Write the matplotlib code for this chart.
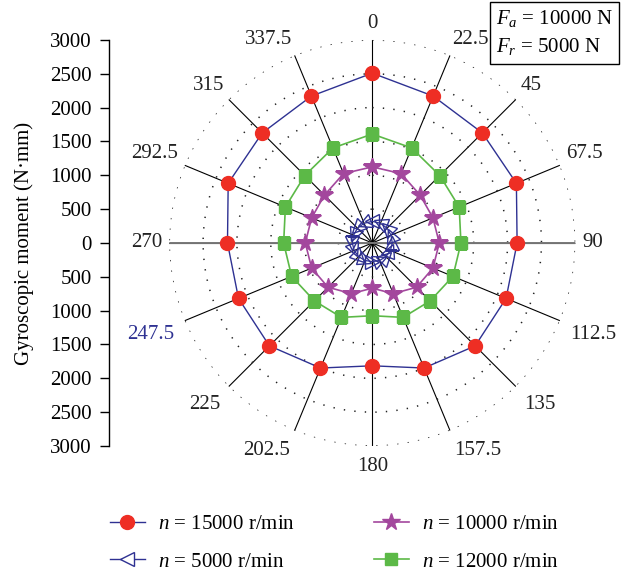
import numpy as np
import matplotlib
matplotlib.use('Agg')
import matplotlib.pyplot as plt
from matplotlib.markers import MarkerStyle
from matplotlib.transforms import Affine2D

plt.rcParams['font.family'] = 'Liberation Serif'
plt.rcParams['mathtext.fontset'] = 'custom'
plt.rcParams['mathtext.rm'] = 'Liberation Serif'
plt.rcParams['mathtext.it'] = 'Liberation Serif:italic'

# Angular positions (deg) and gyroscopic moment (N·mm) per speed
angles = [0, 22.5, 45, 67.5, 90, 112.5, 135, 157.5, 180,
          202.5, 225, 247.5, 270, 292.5, 315, 337.5]
angle_labels = ['0', '22.5', '45', '67.5', '90', '112.5', '135', '157.5', '180',
                '202.5', '225', '247.5', '270', '292.5', '315', '337.5']
m_15000 = [2510, 2350, 2300, 2305, 2140, 2140, 2150, 2000, 1815,
           2000, 2150, 2140, 2140, 2305, 2300, 2350]
m_12000 = [1610, 1520, 1410, 1390, 1310, 1290, 1210, 1190, 1075,
           1190, 1210, 1290, 1310, 1390, 1410, 1520]
m_10000 = [1125, 1110, 1000, 970, 990, 970, 925, 810, 668,
           810, 925, 970, 990, 970, 1000, 1110]
m_5000 = [320, 315, 310, 300, 295, 290, 285, 280, 275,
          280, 285, 290, 295, 300, 310, 315]
axis_ticks = [-3000, -2500, -2000, -1500, -1000, -500, 0,
              500, 1000, 1500, 2000, 2500, 3000]

red = '#ee2e24'
navy = '#2e3192'
purple = '#a3479d'
green = '#5cb947'
FS = 15

fig = plt.figure(figsize=(6.21, 5.76), dpi=100)
ax = fig.add_axes([0.2726, 0.2257, 0.6538, 0.7049], projection='polar')
ax.set_theta_zero_location('N')
ax.set_theta_direction(-1)
ax.set_ylim(0, 3000)
ax.spines['polar'].set_visible(False)
ax.set_xticks(np.deg2rad(angles))
ax.set_xticklabels([])
ax.set_yticks([500, 1000, 1500, 2000, 2500, 3000])
ax.set_yticklabels([])
ax.xaxis.grid(True, color='black', linewidth=0.8, linestyle='-')
ax.yaxis.grid(True, color='#222222', linewidth=1.1, linestyle=(0, (0.9, 6)))
ax.tick_params(length=0)

# horizontal spoke is drawn a little heavier and grey
ax.plot(np.deg2rad([90, 90]), [0, 3000], color='#777777', lw=1.4, zorder=2)
ax.plot(np.deg2rad([270, 270]), [0, 3000], color='#777777', lw=1.4, zorder=2)

th = np.deg2rad(angles + [angles[0]])

def closed(vals):
    return vals + [vals[0]]

h15, = ax.plot(th, closed(m_15000), color=navy, lw=1.0, marker='o', ms=10,
               mfc=red, mec=red, zorder=5)
h10, = ax.plot(th, closed(m_10000), color=purple, lw=1.2, marker='*', ms=13,
               mfc=purple, mec=purple, zorder=5)
h12, = ax.plot(th, closed(m_12000), color=green, lw=1.2, marker='s', ms=9,
               mfc=green, mec=green, zorder=5)

# 5000 r/min: open triangles turned with the angle
ax.plot(th, closed(m_5000), color=navy, lw=0.9, zorder=5)
for a, r in zip(angles, m_5000):
    mk = MarkerStyle('<', transform=Affine2D().rotate_deg(-a))
    ax.plot(np.deg2rad(a), r, linestyle='none', marker=mk, ms=10,
            mfc='none', mec=navy, mew=1.0, zorder=6)
h5, = ax.plot([], [], color=navy, lw=1.0, marker='<', ms=10, mfc='white',
              mec=navy, mew=1.0)

# angle labels sit just outside the spoke ends, anchored by side
for a, lab in zip(angles, angle_labels):
    s, c = np.sin(np.deg2rad(a)), np.cos(np.deg2rad(a))
    ha = 'left' if s > 0.2 else ('right' if s < -0.2 else 'center')
    va = 'bottom' if c > 0.2 else ('top' if c < -0.2 else 'center')
    rr = 3170 if va == 'top' else 3100
    col = navy if lab == '247.5' else '#222222'
    ax.text(np.deg2rad(a), rr, lab, ha=ha, va=va,
            fontsize=FS, color=col, clip_on=False)

# linear scale on the left
ax2 = fig.add_axes([0.176, 0.2257, 0.001, 0.7049])
ax2.set_ylim(-3000, 3000)
ax2.set_yticks(axis_ticks)
ax2.set_yticklabels([str(abs(v)) for v in axis_ticks])
ax2.set_xticks([])
for s in ['top', 'right', 'bottom']:
    ax2.spines[s].set_visible(False)
ax2.spines['left'].set_linewidth(1.0)
ax2.tick_params(axis='y', direction='out', length=6.5, width=1.0,
                labelsize=FS, pad=6)
ax2.patch.set_visible(False)
ax2.set_ylabel('Gyroscopic moment (N·mm)', fontsize=FS, labelpad=12)

fig.legend([h15, h5, h10, h12],
           [r'$n$ = 15000 r/min', r'$n$ = 5000 r/min',
            r'$n$ = 10000 r/min', r'$n$ = 12000 r/min'],
           ncol=2, loc='center', bbox_to_anchor=(0.538, 0.057),
           frameon=False, fontsize=FS, handlelength=1.7, handletextpad=0.6,
           columnspacing=3.8, labelspacing=0.85)

fig.text(0.799, 0.986, '$F_a$ = 10000 N\n$F_r$ = 5000 N', ha='left', va='top',
         fontsize=FS, linespacing=1.45,
         bbox=dict(boxstyle='square,pad=0.3', fc='white', ec='black', lw=1.0))

fig.savefig('out.png', dpi=100)
